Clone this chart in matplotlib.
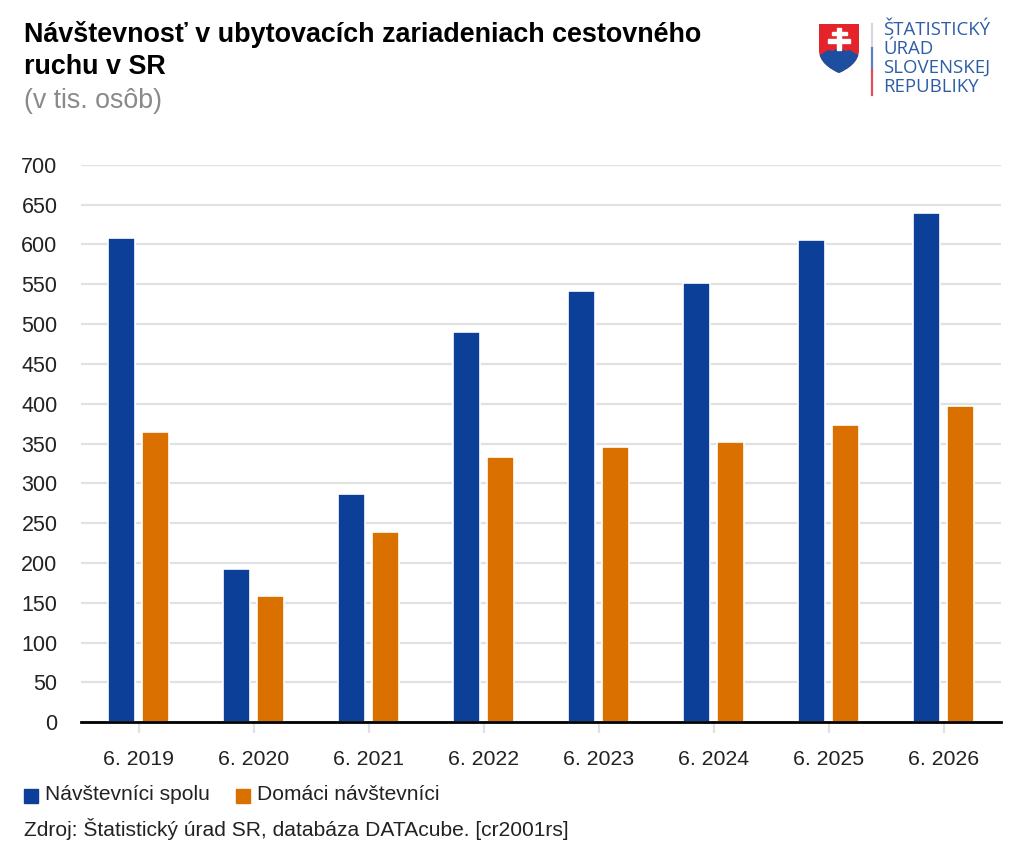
import matplotlib
matplotlib.use("Agg")
import matplotlib.pyplot as plt
import numpy as np
from matplotlib.patches import PathPatch, Polygon, Rectangle
from matplotlib.path import Path

plt.rcParams['font.family'] = ['Liberation Sans', 'DejaVu Sans']

categories = ['6. 2019', '6. 2020', '6. 2021', '6. 2022', '6. 2023', '6. 2024', '6. 2025', '6. 2026']
spolu = [608, 193, 287, 490, 542, 552, 605, 639]
domaci = [365, 159, 239, 333, 346, 352, 373, 397]
series_names = ['Návštevníci spolu', 'Domáci návštevníci']
yticks = list(range(0, 701, 50))

BLUE = '#0c3f98'
ORANGE = '#d97000'
W, H = 1024, 857

fig = plt.figure(figsize=(W / 100, H / 100), dpi=100)

def fx(px):
    return px / W

def fy(py):
    return 1 - py / H

# main axes
ax = fig.add_axes([fx(81), fy(722.3), fx(1001 - 81), (722.3 - 164.7) / H])
x = np.arange(len(categories))
bw = 0.235
off = 0.152
ax.bar(x - off, spolu, bw, color=BLUE, edgecolor='white', linewidth=1.2, zorder=3)
ax.bar(x + off, domaci, bw, color=ORANGE, edgecolor='white', linewidth=1.2, zorder=3)
ax.set_xlim(-0.5, len(categories) - 0.5)
ax.set_ylim(0, 700)
ax.set_yticks(yticks)
ax.set_yticklabels([str(v) for v in yticks], fontsize=15.5, color='#222222')
ax.set_xticks(x)
ax.set_xticklabels(categories, fontsize=15.3, color='#222222')
ax.yaxis.grid(True, color='#e1e1e1', linewidth=1.6, zorder=0)
ax.set_axisbelow(True)
for s in ['top', 'right', 'left']:
    ax.spines[s].set_visible(False)
ax.spines['bottom'].set_color('black')
ax.spines['bottom'].set_linewidth(2)
ax.spines['bottom'].set_zorder(5)
ax.tick_params(axis='y', length=0, pad=17)
ax.tick_params(axis='x', length=8, width=1.6, color='#e1e1e1', pad=12)

# title
fig.text(fx(24), fy(35), 'Návštevnosť v ubytovacích zariadeniach cestovného', fontsize=19.4,
         fontweight='bold', va='center', ha='left', color='black')
fig.text(fx(24), fy(67), 'ruchu v SR', fontsize=19.4, fontweight='bold', va='center', ha='left',
         color='black')
fig.text(fx(24), fy(101), '(v tis. osôb)', fontsize=19.3, va='center', ha='left', color='#8a8a8a')

# legend
fig.patches.append(Rectangle((fx(24), fy(803)), fx(14), 14 / H, color=BLUE,
                             transform=fig.transFigure, figure=fig))
fig.text(fx(45), fy(795), series_names[0], fontsize=15.1, va='center', ha='left', color='#222222')
fig.patches.append(Rectangle((fx(236), fy(803)), fx(14), 14 / H, color=ORANGE,
                             transform=fig.transFigure, figure=fig))
fig.text(fx(257), fy(795), series_names[1], fontsize=15.1, va='center', ha='left', color='#222222')

fig.text(fx(24), fy(829), 'Zdroj: Štatistický úrad SR, databáza DATAcube. [cr2001rs]', fontsize=15.1,
         va='center', ha='left', color='#222222')

# logo: shield
lax = fig.add_axes([fx(816), fy(76), fx(46), 56 / H])
lax.set_xlim(0, 46)
lax.set_ylim(56, 0)
lax.axis('off')
verts = [(3, 4), (43, 4), (43, 30), (43, 42), (32, 49), (23, 53),
         (14, 49), (3, 42), (3, 30), (3, 4)]
codes = [Path.MOVETO, Path.LINETO, Path.LINETO, Path.CURVE4, Path.CURVE4, Path.CURVE4,
         Path.CURVE4, Path.CURVE4, Path.CURVE4, Path.CLOSEPOLY]
shield = Path(verts, codes)
sp = PathPatch(shield, facecolor='#e4232b', edgecolor='none')
lax.add_patch(sp)
hills = Polygon([(0, 56), (0, 35), (6, 34), (12, 30), (17, 31), (23, 27), (29, 31),
                 (34, 30), (40, 34), (46, 35), (46, 56)], facecolor='#1d4fa0', edgecolor='none')
lax.add_patch(hills)
hills.set_clip_path(sp)
# double cross
lax.add_patch(Rectangle((20.8, 8), 4.4, 22, color='white'))
lax.add_patch(Rectangle((15.5, 11.7), 15, 3.4, color='white'))
lax.add_patch(Rectangle((12, 19.3), 22, 3.6, color='white'))

# separator line in national colours
fig.add_artist(plt.Line2D([fx(872), fx(872)], [fy(24), fy(48)], color='#d6d8de', linewidth=1.6))
fig.add_artist(plt.Line2D([fx(872), fx(872)], [fy(48), fy(70)], color='#5b7fc0', linewidth=1.6))
fig.add_artist(plt.Line2D([fx(872), fx(872)], [fy(70), fy(95)], color='#e0505a', linewidth=1.6))

logo_lines = ['ŠTATISTICKÝ', 'ÚRAD', 'SLOVENSKEJ', 'REPUBLIKY']
for i, t in enumerate(logo_lines):
    fig.text(fx(883), fy(30 + i * 19), t, fontsize=13.4, va='center', ha='left',
             color='#2d5da5', family=['Open Sans', 'DejaVu Sans'])

fig.savefig('out.png', dpi=100)
